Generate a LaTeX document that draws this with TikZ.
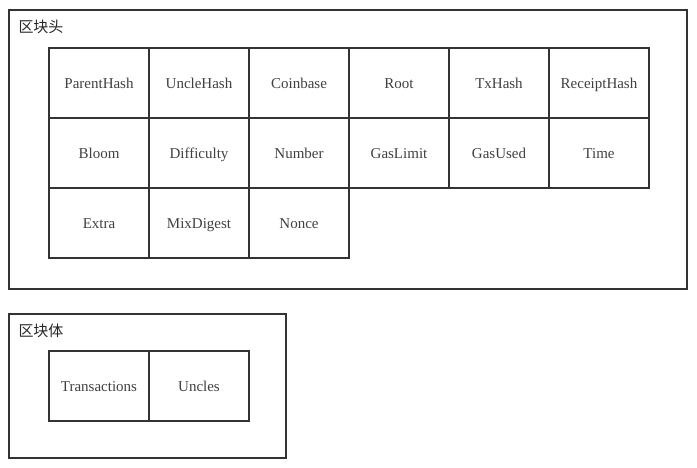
\documentclass[tikz,border=0pt]{standalone}
\usepackage{fontspec}
\setmainfont{Liberation Serif}
\newfontfamily\cjk{Noto Sans CJK SC}
\usetikzlibrary{positioning}

\begin{document}
\begin{tikzpicture}[x=1pt,y=-1pt,
    frame/.style={draw=black!80,line width=1.5pt},
    title/.style={text=black!85,font=\cjk\fontsize{15}{18}\selectfont,inner sep=0pt},
    field/.style={draw=black!80,line width=1.5pt,minimum width=100pt,minimum height=70pt,
        inner sep=0pt,outer sep=0pt,text height=12pt,text depth=1pt,
        text=black!75,font=\fontsize{15}{18}\selectfont}]
    \useasboundingbox (0,0) rectangle (697,468);
    % block header
    \draw[frame] (9,10) rectangle (687,289);
    \node[title] (headtitle) at (41,27) {区块头};
    \foreach \name [count=\i from 0] in {ParentHash,UncleHash,Coinbase,Root,TxHash,ReceiptHash,
            Bloom,Difficulty,Number,GasLimit,GasUsed,Time,Extra,MixDigest,Nonce}{
        \pgfmathtruncatemacro\col{mod(\i,6)}
        \pgfmathtruncatemacro\row{div(\i,6)}
        \node[field] (head\i) at (99+100*\col,83+70*\row) {\name};
    }
    % block body
    \draw[frame] (9,314) rectangle (286,458);
    \node[title] (bodytitle) at (41,331) {区块体};
    \node[field] (trans) at (99,386) {Transactions};
    \node[field,right=0pt of trans] (uncles) {Uncles};
\end{tikzpicture}
\end{document}
